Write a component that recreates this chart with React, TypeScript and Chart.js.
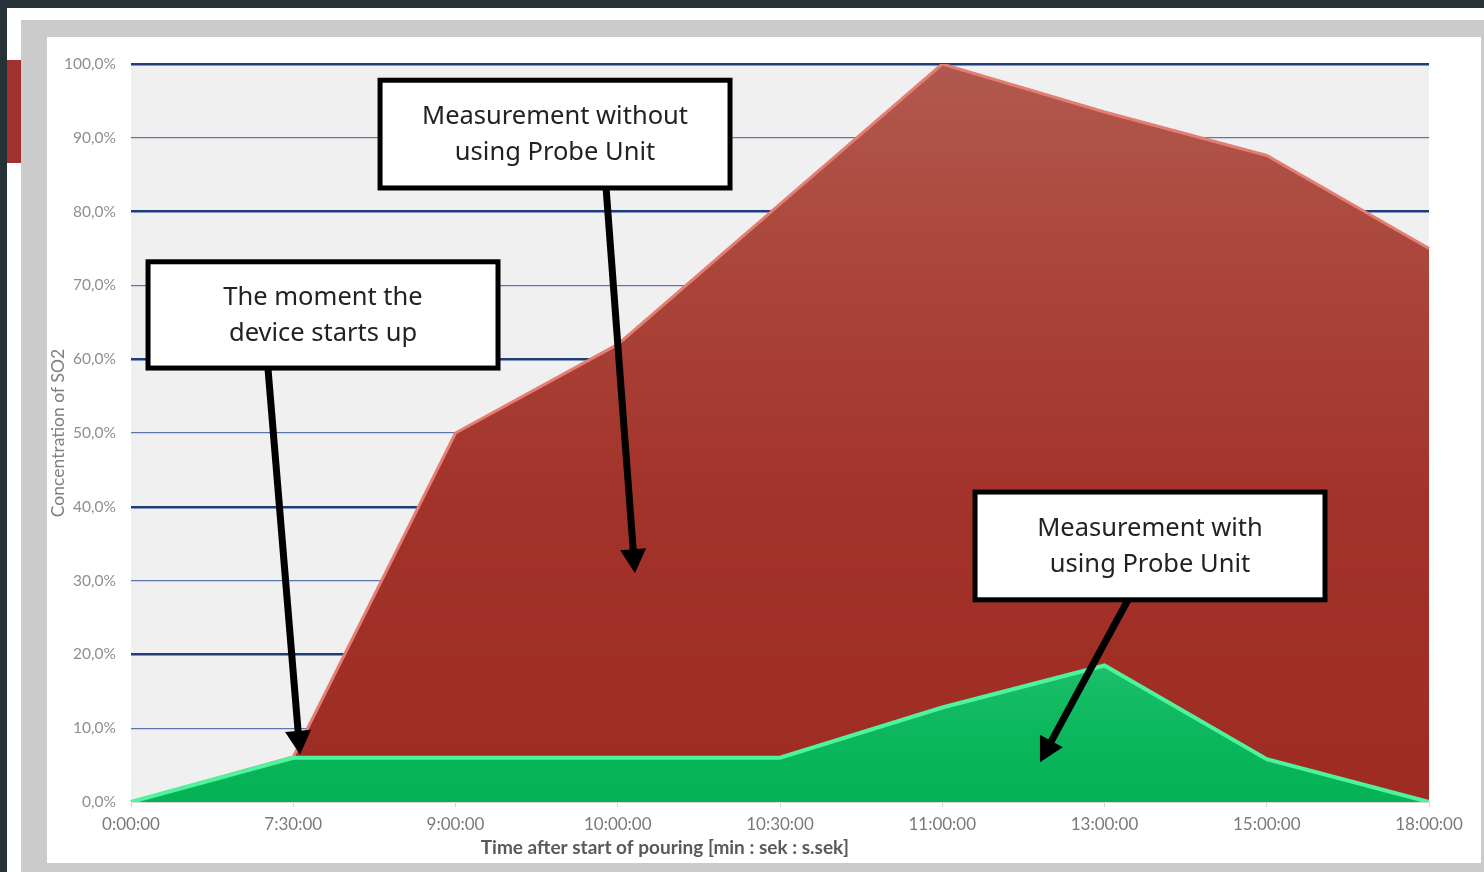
import React, { useEffect, useRef } from "react";
import { Chart, registerables } from "chart.js";

Chart.register(...registerables);

const categories = ["0:00:00", "7:30:00", "9:00:00", "10:00:00", "10:30:00", "11:00:00", "13:00:00", "15:00:00", "18:00:00"];
const withoutProbe = [0, 6.1, 50, 62, 81, 100, 93.5, 87.6, 75];
const withProbe = [0, 6, 6, 6, 6, 12.8, 18.5, 5.8, 0];
const yTickLabels = ["0,0%", "10,0%", "20,0%", "30,0%", "40,0%", "50,0%", "60,0%", "70,0%", "80,0%", "90,0%", "100,0%"];
const yTitle = "Concentration of SO2";
const xTitle = "Time after start of pouring [min : sek : s.sek]";
const noteWithout = ["Measurement without", "using Probe Unit"];
const noteStart = ["The moment the", "device starts up"];
const noteWith = ["Measurement with", "using Probe Unit"];

function drawArrow(ctx: CanvasRenderingContext2D, x1: number, y1: number, x2: number, y2: number) {
  const ang = Math.atan2(y2 - y1, x2 - x1);
  const headLen = 24;
  const headW = 13;
  const bx = x2 - Math.cos(ang) * headLen;
  const by = y2 - Math.sin(ang) * headLen;
  ctx.save();
  ctx.strokeStyle = "#000";
  ctx.fillStyle = "#000";
  ctx.lineWidth = 7;
  ctx.lineCap = "butt";
  ctx.beginPath();
  ctx.moveTo(x1, y1);
  ctx.lineTo(bx + Math.cos(ang) * 2, by + Math.sin(ang) * 2);
  ctx.stroke();
  ctx.beginPath();
  ctx.moveTo(x2, y2);
  ctx.lineTo(bx + Math.cos(ang + Math.PI / 2) * headW, by + Math.sin(ang + Math.PI / 2) * headW);
  ctx.lineTo(bx + Math.cos(ang - Math.PI / 2) * headW, by + Math.sin(ang - Math.PI / 2) * headW);
  ctx.closePath();
  ctx.fill();
  ctx.restore();
}

function drawBox(ctx: CanvasRenderingContext2D, x1: number, y1: number, x2: number, y2: number, lines: string[]) {
  ctx.save();
  ctx.fillStyle = "#ffffff";
  ctx.fillRect(x1, y1, x2 - x1, y2 - y1);
  ctx.strokeStyle = "#000";
  ctx.lineWidth = 5;
  ctx.strokeRect(x1, y1, x2 - x1, y2 - y1);
  ctx.fillStyle = "#222222";
  ctx.font = '25.5px "Noto Sans"';
  ctx.textAlign = "center";
  ctx.textBaseline = "middle";
  const cx = (x1 + x2) / 2;
  const cy = (y1 + y2) / 2;
  ctx.fillText(lines[0], cx, cy - 17);
  ctx.fillText(lines[1], cx, cy + 19);
  ctx.restore();
}

const decorPlugin = {
  id: "decor",
  beforeDraw(chart: any) {
    const { ctx, chartArea: ca } = chart;
    ctx.save();
    ctx.fillStyle = "#f0f0f0";
    ctx.fillRect(ca.left, ca.top, ca.right - ca.left, ca.bottom - ca.top);
    ctx.restore();
  },
  afterDraw(chart: any) {
    const { ctx, chartArea: ca } = chart;
    const xs = chart.scales.x;
    const ys = chart.scales.y;
    const px = (i: number) => xs.getPixelForValue(i);
    const py = (v: number) => ys.getPixelForValue(v);

    // arrows
    drawArrow(ctx, px(2.928), py(83.2), px(3.106), py(31.0));
    drawArrow(ctx, px(0.844), py(58.8), px(1.042), py(6.4));
    drawArrow(ctx, px(6.145), py(27.4), px(5.602), py(5.4));
    // boxes
    drawBox(ctx, px(1.535), py(97.8), px(3.692), py(83.2), noteWithout);
    drawBox(ctx, px(0.105), py(73.2), px(2.262), py(58.8), noteStart);
    drawBox(ctx, px(5.202), py(42.0), px(7.359), py(27.4), noteWith);

    // axis titles
    ctx.save();
    ctx.fillStyle = "#7f7f7f";
    ctx.font = '17.5px Lato';
    ctx.textAlign = "center";
    ctx.textBaseline = "middle";
    ctx.translate(ca.left - 73, (ca.top + ca.bottom) / 2);
    ctx.rotate(-Math.PI / 2);
    ctx.fillText(yTitle, 0, 0);
    ctx.restore();

    ctx.save();
    ctx.fillStyle = "#595959";
    ctx.font = 'bold 19px Lato';
    ctx.textAlign = "center";
    ctx.textBaseline = "middle";
    ctx.fillText(xTitle, px(3.29), ca.bottom + 46);
    ctx.restore();
  },
};

export default function App() {
  const canvasRef = useRef<HTMLCanvasElement | null>(null);

  useEffect(() => {
    const canvas = canvasRef.current;
    if (!canvas) return;
    const redFill = (c: any) => {
      const ca = c.chart.chartArea;
      if (!ca) return "#a3302a";
      const g = c.chart.ctx.createLinearGradient(0, ca.top, 0, ca.bottom);
      g.addColorStop(0, "#b1594f");
      g.addColorStop(0.3, "#aa4438");
      g.addColorStop(0.6, "#a3322a");
      g.addColorStop(1, "#9e2c22");
      return g;
    };
    const greenFill = (c: any) => {
      const ca = c.chart.chartArea;
      if (!ca) return "#0ab45b";
      const g = c.chart.ctx.createLinearGradient(0, ca.bottom - 140, 0, ca.bottom);
      g.addColorStop(0, "#1cc06a");
      g.addColorStop(0.5, "#0cb75e");
      g.addColorStop(1, "#04b155");
      return g;
    };
    const chart = new Chart(canvas, {
      type: "line",
      data: {
        labels: categories,
        datasets: [
          {
            label: "Measurement without using Probe Unit",
            data: withoutProbe,
            fill: "origin",
            backgroundColor: redFill,
            borderColor: "#e47d72",
            borderWidth: 3,
            pointRadius: 0,
            tension: 0,
            order: 1,
          },
          {
            label: "Measurement with using Probe Unit",
            data: withProbe,
            fill: "origin",
            backgroundColor: greenFill,
            borderColor: "#4ef49c",
            borderWidth: 4,
            pointRadius: 0,
            tension: 0,
            order: 0,
          },
        ],
      },
      options: {
        responsive: false,
        maintainAspectRatio: false,
        animation: false,
        layout: { padding: { left: 47, right: 55, top: 64, bottom: 9 } },
        plugins: { legend: { display: false }, tooltip: { enabled: false } },
        scales: {
          x: {
            type: "category",
            offset: false,
            grid: { drawOnChartArea: false, drawTicks: true, tickLength: 5, color: "#d4d4d4" },
            border: { color: "#d9d9d9", width: 1 },
            ticks: {
              color: "#7a7a7a",
              font: { family: "Lato", size: 17 },
              padding: 7,
              maxRotation: 0,
              autoSkip: false,
            },
            afterFit: (s: any) => {
              s.height = 61;
            },
          },
          y: {
            min: 0,
            max: 100,
            border: { display: false },
            grid: {
              drawTicks: false,
              color: (c: any) => {
                const v = c.tick ? c.tick.value : 0;
                if (v === 0) return "rgba(0,0,0,0)";
                return v % 20 === 0 ? "#1f3c7c" : "#5a78ad";
              },
              lineWidth: (c: any) => {
                const v = c.tick ? c.tick.value : 0;
                return v % 20 === 0 ? 2.5 : 1.3;
              },
            },
            ticks: {
              stepSize: 10,
              padding: 15,
              color: "#8f8f8f",
              font: { family: "Lato", size: 15.5 },
              callback: (_v: any, i: number) => yTickLabels[i],
            },
            afterFit: (s: any) => {
              s.width = 84;
            },
          },
        },
      },
      plugins: [decorPlugin],
    } as any);
    return () => chart.destroy();
  }, []);

  return (
    <div style={{ position: "fixed", left: 0, top: 0, width: 1484, height: 872, background: "#263238", overflow: "hidden" }}>
      <div style={{ position: "absolute", left: 7, top: 8, right: 0, bottom: 0, background: "#ffffff" }} />
      <div style={{ position: "absolute", left: 7, top: 60, width: 14, height: 103, background: "#a0312d" }} />
      <div style={{ position: "absolute", left: 21, top: 20, right: 0, bottom: 0, background: "#cbcbcb" }} />
      <div style={{ position: "absolute", left: 47, top: 37, width: 1434, height: 826, background: "#ffffff" }} />
      <canvas ref={canvasRef} width={1484} height={872} style={{ position: "absolute", left: 0, top: 0, width: 1484, height: 872 }} />
    </div>
  );
}
